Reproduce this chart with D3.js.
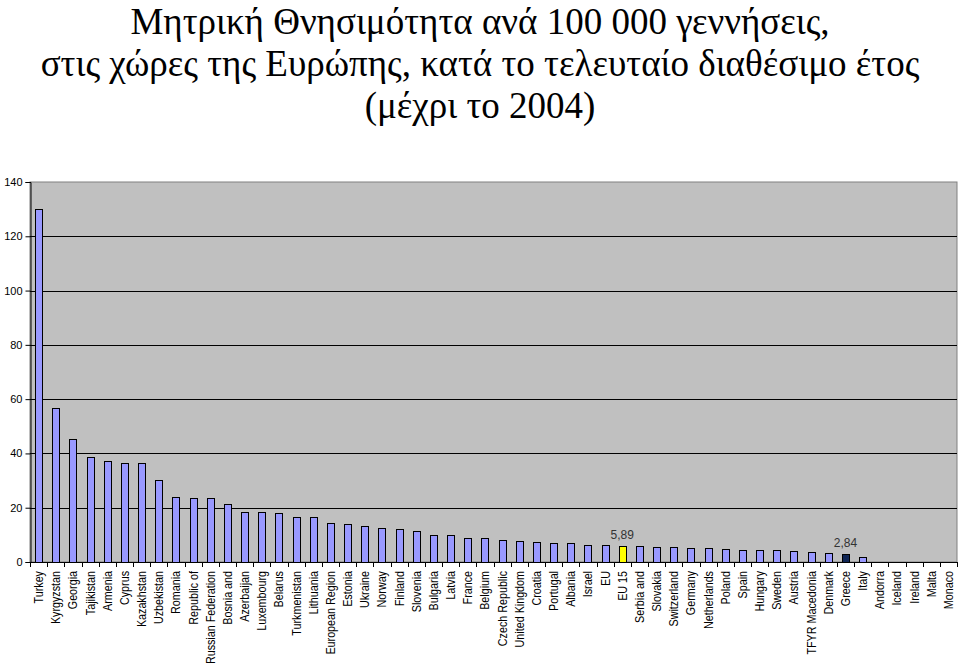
<!DOCTYPE html>
<html>
<head>
<meta charset="utf-8">
<script src="https://cdn.jsdelivr.net/npm/d3@7"></script>
<style>
  body { margin: 0; background: #fff; }
  svg { display: block; }
</style>
</head>
<body>
<div id="chart"></div>
<script>
// title lines
const titleLines = [
  'Μητρική Θνησιμότητα ανά 100 000 γεννήσεις,',
  'στις χώρες της Ευρώπης, κατά το τελευταίο διαθέσιμο έτος',
  '(μέχρι το 2004)'
];

const countries = [
  'Turkey', 'Kyrgyzstan', 'Georgia', 'Tajikistan', 'Armenia', 'Cyprus', 'Kazakhstan',
  'Uzbekistan', 'Romania', 'Republic of', 'Russian Federation', 'Bosnia and', 'Azerbaijan',
  'Luxembourg', 'Belarus', 'Turkmenistan', 'Lithuania', 'European Region', 'Estonia',
  'Ukraine', 'Norway', 'Finland', 'Slovenia', 'Bulgaria', 'Latvia', 'France', 'Belgium',
  'Czech Republic', 'United Kingdom', 'Croatia', 'Portugal', 'Albania', 'Israel', 'EU',
  'EU 15', 'Serbia and', 'Slovakia', 'Switzerland', 'Germany', 'Netherlands', 'Poland',
  'Spain', 'Hungary', 'Sweden', 'Austria', 'TFYR Macedonia', 'Denmark', 'Greece', 'Italy',
  'Andorra', 'Iceland', 'Ireland', 'Malta', 'Monaco'
];

const rates = [
  130, 56.8, 45.3, 38.8, 37.3, 36.6, 36.6,
  30.1, 24.1, 23.5, 23.5, 21.5, 18.5,
  18.3, 17.9, 16.7, 16.4, 14.2, 13.9,
  13.1, 12.5, 12.2, 11.3, 9.9, 9.9, 8.7, 8.7,
  8.0, 7.7, 7.4, 7.1, 7.1, 6.2, 6.1,
  5.89, 5.8, 5.5, 5.5, 5.3, 5.3, 4.9,
  4.5, 4.3, 4.3, 4.1, 3.7, 3.3, 2.84, 1.8,
  0, 0, 0, 0, 0
];

const yTicks = [0, 20, 40, 60, 80, 100, 120, 140];
// bars that carry a value label
const labelled = ['EU 15', 'Greece'];

const width = 960, height = 668;
const margin = { top: 182, right: 3, bottom: 106, left: 30 };

const svg = d3.select('#chart').append('svg')
  .attr('width', width)
  .attr('height', height);

svg.append('g')
  .selectAll('text')
  .data(titleLines)
  .join('text')
  .attr('x', 480)
  .attr('y', (d, i) => [34, 76, 118][i])
  .attr('text-anchor', 'middle')
  .style('font-family', '"Liberation Serif", "Times New Roman", serif')
  .style('font-size', '37px')
  .attr('fill', '#000')
  .text(d => d);

const x = d3.scaleBand()
  .domain(countries)
  .range([margin.left, width - margin.right])
  .paddingInner(0.6)
  .paddingOuter(0.3);

const y = d3.scaleLinear()
  .domain([0, 140])
  .range([height - margin.bottom, margin.top]);

const plotW = width - margin.right - margin.left;

// plot background
svg.append('rect')
  .attr('x', margin.left)
  .attr('y', margin.top)
  .attr('width', plotW)
  .attr('height', y(0) - margin.top)
  .attr('fill', '#c0c0c0')
  .attr('stroke', '#808080');

// gridlines
svg.append('g')
  .selectAll('line')
  .data(yTicks.filter(d => d > 0 && d < 140))
  .join('line')
  .attr('x1', margin.left)
  .attr('x2', width - margin.right)
  .attr('y1', d => Math.round(y(d)) + 0.5)
  .attr('y2', d => Math.round(y(d)) + 0.5)
  .attr('stroke', '#000')
  .attr('stroke-width', 1);

// y axis
const yAxis = svg.append('g')
  .attr('transform', `translate(${margin.left + 0.5},0)`)
  .call(d3.axisLeft(y).tickValues(yTicks).tickSize(5).tickPadding(3).tickFormat(d3.format('d')));
yAxis.select('.domain').attr('stroke', '#000');
yAxis.selectAll('text')
  .style('font-family', '"Liberation Sans", Arial, sans-serif')
  .style('font-size', '11px')
  .attr('fill', '#000');

// bars
const fillFor = d => d === 'EU 15' ? '#ffff00' : d === 'Greece' ? '#0f2555' : '#9999ff';

svg.append('g')
  .selectAll('rect')
  .data(countries)
  .join('rect')
  .attr('x', d => Math.round(x(d)) + 0.5)
  .attr('y', (d, i) => Math.round(y(rates[i])) + 0.5)
  .attr('width', Math.round(x.bandwidth()))
  .attr('height', (d, i) => Math.max(0, Math.round(y(0)) - Math.round(y(rates[i]))))
  .attr('fill', fillFor)
  .attr('stroke', '#000')
  .attr('stroke-width', 1)
  .style('display', (d, i) => rates[i] > 0 ? null : 'none');

// value labels
svg.append('g')
  .selectAll('text')
  .data(countries.filter(d => labelled.includes(d)))
  .join('text')
  .attr('x', d => x(d) + x.bandwidth() / 2)
  .attr('y', d => y(rates[countries.indexOf(d)]) - 7)
  .attr('text-anchor', 'middle')
  .style('font-family', '"Liberation Sans", Arial, sans-serif')
  .style('font-size', '12px')
  .attr('fill', '#333')
  .text(d => d3.format('.2f')(rates[countries.indexOf(d)]).replace('.', ','));

// x axis: ticks at category boundaries
const step = x.step();
const xAxisG = svg.append('g');
xAxisG.append('line')
  .attr('x1', margin.left)
  .attr('x2', width - margin.right)
  .attr('y1', Math.round(y(0)) + 0.5)
  .attr('y2', Math.round(y(0)) + 0.5)
  .attr('stroke', '#000');
xAxisG.selectAll('line.tick')
  .data(d3.range(countries.length + 1))
  .join('line')
  .attr('class', 'tick')
  .attr('x1', i => Math.round(margin.left + i * step) + 0.5)
  .attr('x2', i => Math.round(margin.left + i * step) + 0.5)
  .attr('y1', Math.round(y(0)))
  .attr('y2', Math.round(y(0)) + 5)
  .attr('stroke', '#000');

xAxisG.selectAll('text')
  .data(countries)
  .join('text')
  .attr('transform', d => `translate(${x(d) + x.bandwidth() / 2 + 4.5},${y(0) + 9}) rotate(-90) scale(0.86,1)`)
  .attr('text-anchor', 'end')
  .style('font-family', '"Liberation Sans", Arial, sans-serif')
  .style('font-size', '12.5px')
  .attr('fill', '#000')
  .text(d => d);
</script>
</body>
</html>
